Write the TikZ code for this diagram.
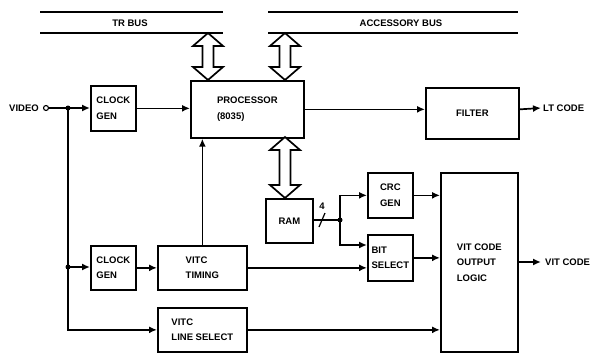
\documentclass[tikz,border=0pt]{standalone}
\usepackage{fontspec}
\setmainfont{Liberation Sans}
\usepackage{tikz}
\usetikzlibrary{arrows.meta, positioning}

% hollow two-way arrow between bus and block: x, top y, bottom y
\newcommand{\busarrow}[3]{%
  \draw[wire, fill=white, line join=miter]
    (#1,#2) -- ({#1+15},{#2+13}) -- ({#1+5.5},{#2+13}) -- ({#1+5.5},{#3-13})
    -- ({#1+15},{#3-13}) -- (#1,#3) -- ({#1-15},{#3-13}) -- ({#1-5.5},{#3-13})
    -- ({#1-5.5},{#2+13}) -- ({#1-15},{#2+13}) -- cycle;}

\begin{document}
\begin{tikzpicture}[x=1pt, y=-1pt,
    wire/.style={line width=1.7pt},
    box/.style={draw, wire, anchor=north west, inner sep=0pt, align=left,
                font=\bfseries\fontsize{9.5}{15.5}\selectfont},
    lbl/.style={font=\bfseries\fontsize{9.5}{15.5}\selectfont, inner sep=0pt},
    to/.style={wire, -{Latex[length=8pt,width=7pt]}}]
    \useasboundingbox (0,0) rectangle (594,353);

    % Buses
    \draw[wire] (40,12) -- (223,12);
    \draw[wire] (40,33) -- (223,33);
    \node[lbl] (trbus) at (130,23) {TR BUS};
    \draw[wire] (268,12) -- (518,12);
    \draw[wire] (268,33) -- (518,33);
    \node[lbl] (accbus) at (401,23) {ACCESSORY BUS};

    % Blocks
    \node[box, minimum width=45, minimum height=45] (clk1) at (90,85) {CLOCK\\GEN};
    \node[box, minimum width=113, minimum height=57] (proc) at (190,80) {PROCESSOR\\(8035)};
    \node[box, minimum width=93, minimum height=51] (filter) at (425,87) {FILTER};
    \node[box, minimum width=47, minimum height=44] (ram) at (265,198) {RAM};
    \node[box, minimum width=45, minimum height=45] (crc) at (367,172) {CRC\\GEN};
    \node[box, minimum width=45, minimum height=46] (bitsel) at (367,234) {BIT\\SELECT};
    \node[box, minimum width=77, minimum height=179] (vitlogic) at (440,172) {VIT CODE\\OUTPUT\\LOGIC};
    \node[box, minimum width=45, minimum height=44] (clk2) at (90,245) {CLOCK\\GEN};
    \node[box, minimum width=89, minimum height=44] (timing) at (157,245) {VITC\\TIMING};
    \node[box, minimum width=89, minimum height=44] (linesel) at (157,307) {VITC\\LINE SELECT};

    % Bus arrows
    \busarrow{208}{33}{80}
    \busarrow{285}{33}{80}
    \busarrow{285}{137}{198}

    % Video input
    \node[lbl, anchor=east] (video) at (39,108) {VIDEO};
    \coordinate (vin) at (46,108);
    \coordinate (j1) at (68,108);
    \coordinate (j2) at (68,267);
    \draw[wire] (vin) -- (j1);
    \draw[to] (j1) -- (clk1.west |- j1);
    \draw[to] (j1) |- (linesel.west);
    \draw[to] (j2) -- (clk2.west |- j2);
    \fill (j1) circle (2.5pt);
    \fill (j2) circle (2.5pt);
    \draw[line width=1.1pt, fill=white] (vin) circle (2.5pt);

    % Processor path
    \draw[to] (clk1.east) -- (proc.west |- clk1.east);
    \draw[to] (proc.east) -- (filter.west |- proc.east);
    \coordinate (ltend) at (541,108);
    \draw[to] (filter.east |- proc.east) -- (ltend);
    \node[lbl, anchor=west] (ltcode) at (543,108) {LT CODE};

    % VITC path
    \draw[to] (clk2.east) -- (timing.west |- clk2.east);
    \draw[to] (timing.north) -- (timing.north |- proc.south);
    \draw[to] (timing.east) -- (bitsel.west |- timing.east);
    \draw[to] (linesel.east) -- (vitlogic.west |- linesel.east);

    % RAM data, 4 bits
    \coordinate (j3) at (340,220);
    \draw[wire] (ram.east |- j3) -- (j3);
    \draw[line width=1.2pt] (319,227) -- (325,213);
    \node[lbl] (nbits) at (322,206) {4};
    \draw[to] (j3) |- (crc.west);
    \draw[to] (j3) |- (bitsel.west |- 0,245);
    \fill (j3) circle (2.5pt);

    % Output logic
    \draw[to] (crc.east) -- (vitlogic.west |- crc.east);
    \draw[to] (bitsel.east) -- (vitlogic.west |- bitsel.east);
    \coordinate (vitend) at (541,262);
    \draw[to] (vitlogic.east |- vitend) -- (vitend);
    \node[lbl, anchor=west] (vitcode) at (545,262) {VIT CODE};
\end{tikzpicture}
\end{document}
